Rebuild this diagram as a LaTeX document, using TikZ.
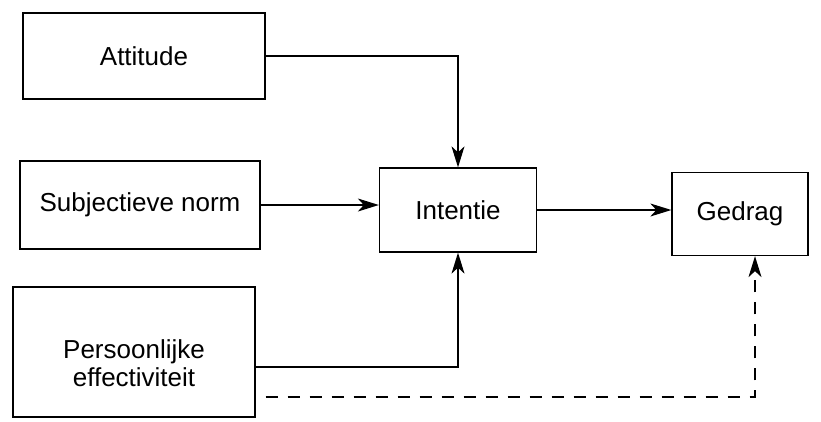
\documentclass[tikz,border=0pt]{standalone}
\usepackage{fontspec}
\setmainfont{Liberation Sans}
\usetikzlibrary{arrows.meta,calc}

\begin{document}
\begin{tikzpicture}[x=1pt,y=-1pt,
    caja/.style={draw, line width=1.3pt, align=center, inner sep=0pt,
                 font=\fontsize{26}{28}\selectfont},
    flecha/.style={line width=1.3pt, -{Stealth[length=21pt,width=13pt,inset=6pt]}}]
  \useasboundingbox (0,0) rectangle (821,421);

  % Cajas de la izquierda
  \node[caja, minimum width=242pt, minimum height=86pt] (att) at (144,56) {Attitude};
  \node[caja, minimum width=240pt, minimum height=88pt] (subj) at (140,205) {Subjectieve norm};
  \node[caja, minimum width=242pt, minimum height=130pt] (pers) at (134,352) {\rule{0pt}{42pt}Persoonlijke\\effectiviteit};

  % Cajas de la derecha
  \node[caja, minimum width=157pt, minimum height=84pt] (int) at (458,210) {Intentie};
  \node[caja, minimum width=136pt, minimum height=83pt] (ged) at (740,214) {Gedrag};

  % Flechas hacia la intencion
  \draw[flecha] (att.east) -| (int.north);
  \draw[flecha] (subj.east) -- (subj.east -| int.west);
  \draw[flecha] ($(pers.east)+(0,15)$) -| (int.south);

  % Flecha de intencion a conducta
  \draw[flecha] (int.east) -- (int.east -| ged.west);

  % Linea discontinua hacia la conducta
  \draw[flecha, dash pattern=on 12pt off 10pt, dash phase=12pt]
    ($(pers.east)+(0,45)$) -| ($(ged.south)+(15,0)$);
\end{tikzpicture}
\end{document}
